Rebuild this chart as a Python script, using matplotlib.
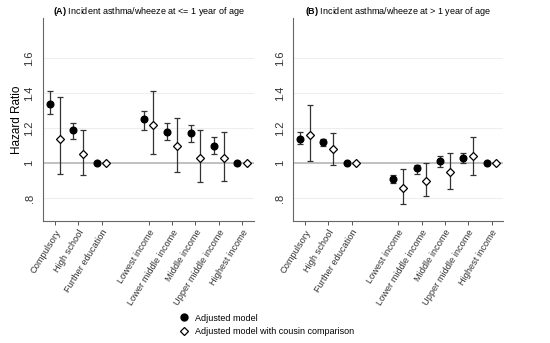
import matplotlib
matplotlib.use("Agg")
import matplotlib.pyplot as plt
from matplotlib.lines import Line2D

plt.rcParams['font.family'] = ['Liberation Sans', 'DejaVu Sans']
plt.rcParams['mathtext.fontset'] = 'custom'
plt.rcParams['mathtext.rm'] = 'Liberation Sans'
plt.rcParams['mathtext.bf'] = 'Liberation Sans:bold'

categories = ["Compulsory", "High school", "Further education",
              "Lowest income", "Lower middle income", "Middle income",
              "Upper middle income", "Highest income"]
positions = [1, 2, 3, 5, 6, 7, 8, 9]

# panel A: <= 1 year
a_adj = [1.34, 1.19, 1.00, 1.25, 1.18, 1.17, 1.10, 1.00]
a_adj_lo = [1.28, 1.14, 1.00, 1.19, 1.13, 1.12, 1.05, 1.00]
a_adj_hi = [1.41, 1.23, 1.00, 1.30, 1.23, 1.22, 1.15, 1.00]
a_cous = [1.14, 1.05, 1.00, 1.22, 1.10, 1.03, 1.03, 1.00]
a_cous_lo = [0.94, 0.93, 1.00, 1.05, 0.95, 0.89, 0.90, 1.00]
a_cous_hi = [1.38, 1.19, 1.00, 1.41, 1.26, 1.19, 1.18, 1.00]

# panel B: > 1 year
b_adj = [1.14, 1.12, 1.00, 0.91, 0.97, 1.01, 1.03, 1.00]
b_adj_lo = [1.11, 1.10, 1.00, 0.885, 0.94, 0.98, 1.00, 1.00]
b_adj_hi = [1.18, 1.14, 1.00, 0.93, 0.99, 1.04, 1.06, 1.00]
b_cous = [1.16, 1.08, 1.00, 0.86, 0.90, 0.95, 1.04, 1.00]
b_cous_lo = [1.01, 0.99, 1.00, 0.765, 0.81, 0.85, 0.93, 1.00]
b_cous_hi = [1.33, 1.17, 1.00, 0.965, 1.00, 1.06, 1.15, 1.00]

titles = [r"$\bf{(A)}$ Incident asthma/wheeze at <= 1 year of age",
          r"$\bf{(B)}$ Incident asthma/wheeze at > 1 year of age"]

fig = plt.figure(figsize=(5.5, 3.43), dpi=100)
ax1 = fig.add_axes([0.078, 0.356, 0.384, 0.592])
ax2 = fig.add_axes([0.533, 0.356, 0.382, 0.592])

panels = [(ax1, a_adj, a_adj_lo, a_adj_hi, a_cous, a_cous_lo, a_cous_hi),
          (ax2, b_adj, b_adj_lo, b_adj_hi, b_cous, b_cous_lo, b_cous_hi)]

off = 0.21
for i, (ax, adj, lo, hi, cous, clo, chi) in enumerate(panels):
    for g in [0.8, 1.2, 1.4, 1.6]:
        ax.axhline(g, color="#eeeeee", lw=0.8, zorder=0)
    ax.axhline(1.0, color="#bbbbbb", lw=1.3, zorder=1)

    x1 = [p - off for p in positions]
    x2 = [p + off for p in positions]
    err1 = [[a - l for a, l in zip(adj, lo)], [h - a for a, h in zip(adj, hi)]]
    err2 = [[a - l for a, l in zip(cous, clo)], [h - a for a, h in zip(cous, chi)]]
    ax.errorbar(x1, adj, yerr=err1, fmt="o", color="black", ms=4.8,
                ecolor="#333333", elinewidth=0.9, capsize=2.3, capthick=0.9, zorder=3)
    ax.errorbar(x2, cous, yerr=err2, fmt="D", color="black", mfc="white",
                mec="black", ms=4.5, mew=0.9, ecolor="#333333",
                elinewidth=0.9, capsize=2.3, capthick=0.9, zorder=3)

    ax.set_xlim(0.5, 9.5)
    ax.set_ylim(0.67, 1.83)
    ax.set_yticks([0.8, 1.0, 1.2, 1.4, 1.6])
    ax.set_yticklabels([".8", "1", "1.2", "1.4", "1.6"], rotation=90,
                       va="center", fontsize=8, color="#333333")
    ax.set_xticks(positions)
    ax.set_xticklabels(categories, rotation=58, ha="right",
                       rotation_mode="anchor", fontsize=6.7, color="#333333")
    ax.tick_params(axis="x", length=3, color="#555555", width=0.7, pad=2)
    ax.tick_params(axis="y", length=0, pad=6)
    ax.spines["top"].set_visible(False)
    ax.spines["right"].set_visible(False)
    ax.spines["left"].set_color("#666666")
    ax.spines["bottom"].set_color("#666666")
    ax.spines["left"].set_linewidth(0.8)
    ax.spines["bottom"].set_linewidth(0.8)
    ax.set_title(titles[i], fontsize=6.5, pad=3)

ax1.set_ylabel("Hazard Ratio", fontsize=8.5, labelpad=1)

handles = [Line2D([], [], marker="o", ls="", color="black", ms=5),
           Line2D([], [], marker="D", ls="", mfc="white", mec="black", ms=4.5, mew=0.9)]
fig.legend(handles, ["Adjusted model", "Adjusted model with cousin comparison"],
           loc="center left", bbox_to_anchor=(0.31, 0.053), frameon=False,
           fontsize=6.5, handletextpad=0.6, labelspacing=0.5, handlelength=1.2)

plt.savefig("out.png", dpi=100)
